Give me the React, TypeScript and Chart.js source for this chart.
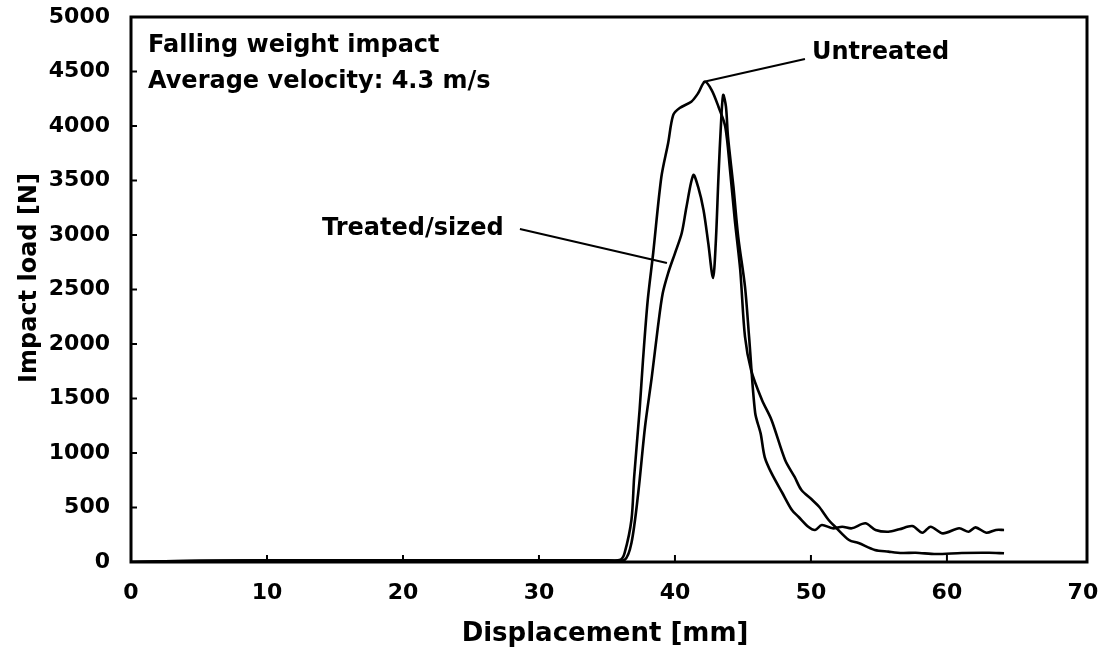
import React, { useEffect, useRef } from "react";
import { Chart, registerables } from "chart.js";

Chart.register(...registerables);

// ---- Data ----
const untreatedX = [0, 5, 10, 20, 30, 35, 36.0, 36.3, 36.8, 37.0, 37.4, 37.65, 38.0, 38.4, 39.0, 39.5, 39.87, 40.35, 41.2, 41.7, 42.2, 42.7, 43.2, 43.7, 44.05, 44.4, 44.8, 45.15, 45.6, 46.4, 47.1, 48.1, 48.8, 49.3, 50.1, 50.6, 51.3, 51.8, 52.8, 53.5, 54.7, 55.7, 56.7, 57.7, 59.2, 61.1, 63.1, 64.2];
const untreatedY = [0, 10, 15, 15, 15, 15, 20, 83, 385, 780, 1394, 1853, 2404, 2835, 3532, 3844, 4100, 4165, 4223, 4300, 4406, 4330, 4177, 3994, 3596, 3138, 2679, 2067, 1761, 1486, 1303, 936, 780, 660, 569, 507, 385, 321, 202, 174, 110, 95, 83, 85, 73, 83, 85, 80];

const treatedX = [0, 5, 10, 20, 30, 35, 36.3, 36.8, 37.3, 37.8, 38.3, 38.75, 39.1, 39.5, 40.0, 40.5, 40.85, 41.35, 41.7, 42.1, 42.45, 42.8, 43.0, 43.2, 43.4, 43.55, 43.75, 43.9, 44.3, 44.65, 45.15, 45.45, 45.9, 46.3, 46.6, 47.1, 47.9, 48.6, 49.1, 49.8, 50.3, 50.8, 51.6, 52.3, 53.0, 54.0, 54.75, 55.7, 56.5, 57.45, 58.2, 58.8, 59.7, 60.9, 61.6, 62.1, 62.9, 63.6, 64.2];
const treatedY = [0, 10, 15, 15, 15, 15, 20, 174, 633, 1241, 1700, 2159, 2465, 2651, 2832, 3018, 3260, 3550, 3443, 3229, 2925, 2605, 2925, 3535, 4055, 4284, 4177, 3902, 3443, 2985, 2526, 2067, 1367, 1180, 963, 815, 633, 477, 413, 324, 294, 339, 309, 324, 309, 355, 294, 278, 300, 330, 269, 324, 263, 309, 278, 318, 269, 294, 294];

const xTickValues = [0, 10, 20, 30, 40, 50, 60, 70];
const yTickValues = [0, 500, 1000, 1500, 2000, 2500, 3000, 3500, 4000, 4500, 5000];

const xTitle = "Displacement [mm]";
const yTitle = "Impact load [N]";
const infoLines = ["Falling weight impact", "Average velocity: 4.3 m/s"];
const seriesLabels = ["Untreated", "Treated/sized"];

const FONT = "'DejaVu Sans', sans-serif";

const annotatePlugin = {
  id: "annotate",
  afterDraw(chart: any) {
    const { ctx, chartArea: a, scales } = chart;
    const x = scales.x;
    const y = scales.y;
    const px = (v: number) => x.getPixelForValue(v);
    const py = (v: number) => y.getPixelForValue(v);
    ctx.save();
    ctx.strokeStyle = "#000";
    ctx.fillStyle = "#000";
    // frame
    ctx.lineWidth = 3;
    ctx.strokeRect(a.left, a.top, a.right - a.left, a.bottom - a.top);
    // inward ticks
    ctx.lineWidth = 2;
    xTickValues.slice(1, -1).forEach((v) => {
      const p = px(v);
      ctx.beginPath();
      ctx.moveTo(p, a.bottom);
      ctx.lineTo(p, a.bottom - 7);
      ctx.stroke();
    });
    yTickValues.slice(1, -1).forEach((v) => {
      const p = py(v);
      ctx.beginPath();
      ctx.moveTo(a.left, p);
      ctx.lineTo(a.left + 6, p);
      ctx.stroke();
    });
    // info text
    ctx.font = `bold 24px ${FONT}`;
    ctx.textAlign = "left";
    ctx.textBaseline = "alphabetic";
    ctx.fillText(infoLines[0], px(1.25), py(4679));
    ctx.fillText(infoLines[1], px(1.25), py(4349));
    // series labels
    ctx.fillText(seriesLabels[0], px(50.07), py(4615));
    ctx.fillText(seriesLabels[1], px(14.04), py(3000));
    // leader lines
    ctx.lineWidth = 2;
    ctx.beginPath();
    ctx.moveTo(px(49.56), py(4615));
    ctx.lineTo(px(42.06), py(4404));
    ctx.stroke();
    ctx.beginPath();
    ctx.moveTo(px(28.6), py(3055));
    ctx.lineTo(px(39.41), py(2743));
    ctx.stroke();
    // axis titles
    ctx.font = `bold 26px ${FONT}`;
    ctx.textAlign = "center";
    ctx.fillText(xTitle, 605, 641);
    ctx.save();
    ctx.translate(36, 278);
    ctx.rotate(-Math.PI / 2);
    ctx.font = `bold 24px ${FONT}`;
    ctx.fillText(yTitle, 0, 0);
    ctx.restore();
    ctx.restore();
  },
};

export default function App() {
  const ref = useRef<HTMLCanvasElement | null>(null);
  useEffect(() => {
    if (!ref.current) return;
    const chart = new Chart(ref.current, {
      type: "line",
      data: {
        datasets: [
          {
            label: seriesLabels[0],
            data: untreatedX.map((v, i) => ({ x: v, y: untreatedY[i] })),
            borderColor: "#000",
            borderWidth: 2.6,
            pointRadius: 0,
            tension: 0.3,
            fill: false,
          },
          {
            label: seriesLabels[1],
            data: treatedX.map((v, i) => ({ x: v, y: treatedY[i] })),
            borderColor: "#000",
            borderWidth: 2.6,
            pointRadius: 0,
            tension: 0.3,
            fill: false,
          },
        ],
      },
      options: {
        animation: false,
        responsive: false,
        maintainAspectRatio: false,
        layout: { padding: { top: 17, right: 20, left: 0, bottom: 0 } },
        plugins: { legend: { display: false }, tooltip: { enabled: false } },
        scales: {
          x: {
            type: "linear",
            min: 0,
            max: 70.3,
            grid: { display: false, drawTicks: false },
            border: { display: false },
            afterBuildTicks: (s: any) => {
              s.ticks = xTickValues.map((v) => ({ value: v }));
            },
            afterFit: (s: any) => {
              s.height = 87;
              s.paddingLeft = 0;
              s.paddingRight = 0;
            },
            ticks: {
              color: "#000",
              padding: 18,
              maxRotation: 0,
              autoSkip: false,
              font: { family: FONT, size: 22, weight: "bold" },
              callback: (v: any) => String(v),
            },
          },
          y: {
            type: "linear",
            min: 0,
            max: 5000,
            grid: { display: false, drawTicks: false },
            border: { display: false },
            afterBuildTicks: (s: any) => {
              s.ticks = yTickValues.map((v) => ({ value: v }));
            },
            afterFit: (s: any) => {
              s.width = 131;
              s.paddingTop = 0;
              s.paddingBottom = 0;
            },
            ticks: {
              color: "#000",
              padding: 21,
              autoSkip: false,
              font: { family: FONT, size: 22, weight: "bold" },
              callback: (v: any) => String(v),
            },
          },
        },
      },
      plugins: [annotatePlugin],
    });
    return () => chart.destroy();
  }, []);
  return (
    <div style={{ position: "fixed", left: 0, top: 0, width: 1107, height: 649, background: "#fff" }}>
      <canvas ref={ref} width={1107} height={649} style={{ display: "block" }} />
    </div>
  );
}
